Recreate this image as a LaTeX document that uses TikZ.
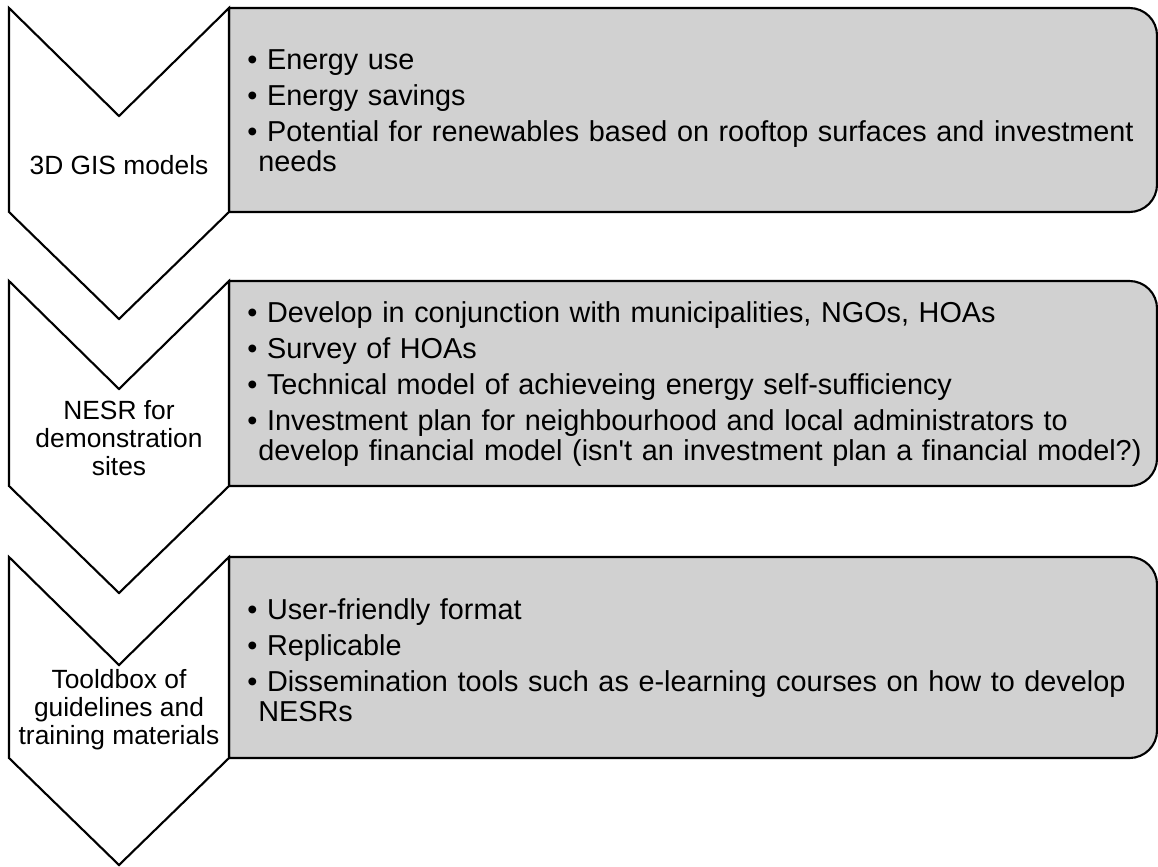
\documentclass[tikz,border=0pt]{standalone}
\usepackage{fontspec}
\setmainfont{Liberation Sans}
\definecolor{panelgray}{RGB}{209,209,209}
\hyphenpenalty=10000
% one bullet point with a hanging indent
\newcommand{\detailitem}[1]{\hangindent=0.22cm\hangafter=1 \textbullet\ #1\par}

\begin{document}
\begin{tikzpicture}[x=0.02cm, y=-0.02cm,
        outline/.style={draw=black, line width=1.2pt, line join=miter},
        stage/.style={align=center, inner sep=0pt, font=\fontsize{15}{15.9}\selectfont},
        detail/.style={anchor=west, inner sep=0pt, text width=17.9cm, align=left,
            font=\fontsize{16.4}{17.2}\selectfont\setlength{\parskip}{3.2pt}}]
    \useasboundingbox (0,0) rectangle (1158,866);

    % Detail panels, square on the left and rounded on the right
    \foreach \top/\bot in {8/212, 281/486, 557/758}
        \draw[outline, fill=panelgray] (229,\bot) -- (229,\top) [rounded corners=0.55cm] -- (1157,\top) -- (1157,\bot) [sharp corners] -- cycle;

    % Chevrons pointing down
    \foreach \top/\bot in {8/212, 281/486, 557/758}
        \draw[outline, fill=white] (9,\top) -- (119,\top+108) -- (229,\top) -- (229,\bot) -- (119,\bot+107) -- (9,\bot) -- cycle;

    % Stage labels
    \node[stage] (gis) at (119,165) {3D GIS models};
    \node[stage] (nesr) at (119,438) {NESR for\\demonstration\\sites};
    \node[stage] (toolbox) at (119,710) {Tooldbox of\\guidelines and\\training materials};

    % Details for each stage
    \node[detail] (gisdetail) at (247,111) {%
        \detailitem{Energy use}
        \detailitem{Energy savings}
        \detailitem{Potential for renewables based on rooftop surfaces and investment needs}};
    \node[detail] (nesrdetail) at (247,384) {%
        \detailitem{Develop in conjunction with municipalities, NGOs, HOAs}
        \detailitem{Survey of HOAs}
        \detailitem{Technical model of achieveing energy self-sufficiency}
        \detailitem{Investment plan for neighbourhood and local administrators to develop financial model (isn\textquotesingle t an investment plan a financial model?)}};
    \node[detail] (tooldetail) at (247,660) {%
        \detailitem{User-friendly format}
        \detailitem{Replicable}
        \detailitem{Dissemination tools such as e-learning courses on how to develop NESRs}};
\end{tikzpicture}
\end{document}
